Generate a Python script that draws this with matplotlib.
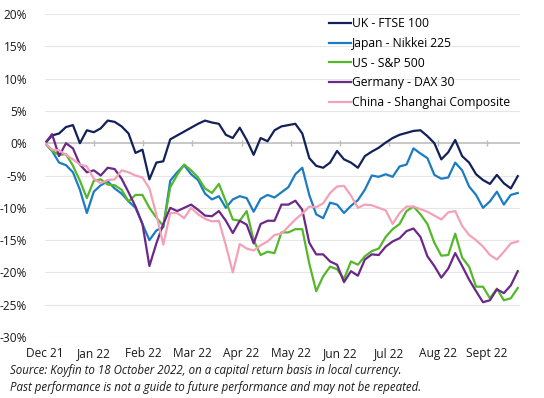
import numpy as np
import matplotlib
matplotlib.use("Agg")
import matplotlib.pyplot as plt

plt.rcParams['font.family'] = ['Open Sans', 'DejaVu Sans']

# trading-day index (every 3rd day), 31 Dec 2021 -> 18 Oct 2022
day_idx = np.arange(0, 205, 3)

month_labels = ["Dec 21", "Jan 22", "Feb 22", "Mar 22", "Apr 22",
                "May 22", "Jun 22", "Jul 22", "Aug 22", "Sept 22"]

series_names = ["UK - FTSE 100", "Japan - Nikkei 225", "US - S&P 500",
                "Germany - DAX 30", "China - Shanghai Composite"]

ftse = [0.0, 1.2, 1.5, 2.5, 2.8, 0.0, 2.0, 1.7, 2.3, 3.5,
        3.3, 2.6, 1.5, -1.5, -1.0, -5.6, -3.0, -2.8, 0.6, 1.2,
        1.8, 2.4, 3.0, 3.5, 3.2, 3.0, 1.3, 0.8, 2.4, 0.5,
        -1.8, 0.8, 0.3, 2.0, 2.6, 2.8, 3.0, 1.5, -2.3, -3.5,
        -3.8, -3.0, -1.2, -2.5, -3.0, -3.8, -2.0, -1.3, -0.7, 0.1,
        0.8, 1.3, 1.6, 1.9, 2.0, 1.1, 0.0, -2.5, -1.4, 0.5,
        -2.0, -3.0, -4.8, -5.7, -6.3, -4.9, -6.2, -7.0, -5.1]

nikkei = [0.0, -1.2, -3.0, -3.4, -4.5, -7.2, -10.8, -7.5, -6.5, -5.9,
          -7.0, -7.8, -9.0, -10.0, -12.5, -15.0, -13.5, -13.0, -5.8, -4.5,
          -3.4, -4.8, -5.7, -7.8, -8.7, -8.2, -10.0, -8.7, -8.2, -8.5,
          -10.6, -8.6, -8.0, -8.4, -7.6, -6.8, -4.8, -3.8, -8.0, -11.0,
          -11.6, -9.2, -9.5, -10.8, -9.7, -8.8, -7.2, -5.0, -5.2, -4.8,
          -5.2, -3.6, -3.3, -0.8, -1.6, -2.3, -4.9, -5.5, -5.3, -3.0,
          -4.2, -6.7, -8.0, -10.0, -9.0, -7.5, -9.5, -8.0, -7.7]

spx = [0.0, -1.2, -1.8, -1.7, -3.5, -5.8, -8.5, -5.8, -5.6, -6.4,
       -6.5, -7.2, -9.0, -8.0, -8.0, -10.0, -11.5, -12.8, -6.8, -4.9,
       -3.3, -4.2, -5.3, -7.0, -7.7, -6.3, -9.0, -11.8, -12.0, -10.5,
       -15.0, -17.3, -16.8, -17.0, -13.8, -13.8, -13.3, -13.3, -18.6, -22.9,
       -20.6, -19.1, -19.5, -21.0, -18.3, -18.8, -17.5, -16.7, -16.3, -14.5,
       -13.3, -12.5, -10.5, -9.8, -11.0, -12.5, -15.4, -17.4, -17.3, -14.0,
       -17.7, -19.1, -22.2, -22.2, -24.0, -22.5, -24.3, -24.0, -22.4]

dax = [0.0, 1.4, -2.0, 0.0, -0.8, -3.3, -4.5, -4.2, -5.0, -3.8,
       -4.0, -5.5, -7.6, -9.8, -12.5, -19.0, -15.5, -12.5, -10.0, -10.5,
       -10.0, -9.5, -10.3, -11.2, -11.3, -10.5, -12.0, -13.9, -12.0, -12.6,
       -15.5, -12.5, -12.0, -12.0, -9.5, -9.5, -8.9, -10.3, -15.4, -17.2,
       -17.2, -18.3, -18.8, -21.5, -19.8, -20.5, -18.0, -17.2, -17.3, -16.0,
       -15.2, -14.7, -13.6, -13.2, -14.5, -17.5, -19.0, -20.8, -19.4, -17.0,
       -19.0, -21.1, -22.9, -24.6, -24.3, -22.6, -23.2, -22.0, -19.8]

shanghai = [0.0, -1.0, -1.1, -1.8, -2.5, -3.3, -3.6, -5.5, -6.2, -5.7,
            -5.6, -4.2, -4.5, -5.0, -5.3, -7.0, -11.0, -15.7, -10.8, -10.8,
            -11.6, -10.0, -11.0, -11.7, -12.1, -12.0, -15.8, -20.0, -15.6, -16.3,
            -16.6, -15.8, -15.2, -14.2, -14.0, -12.9, -11.8, -10.9, -9.8, -9.9,
            -9.3, -7.7, -6.7, -6.6, -8.1, -10.0, -9.5, -9.6, -10.0, -10.4,
            -12.5, -10.8, -9.8, -9.8, -10.2, -10.6, -11.2, -11.8, -10.7, -10.5,
            -12.8, -14.2, -15.0, -16.0, -17.3, -18.0, -16.8, -15.5, -15.2]

colors = ["#13215a", "#1b7cc3", "#54b82a", "#6a2889", "#f3a1b9"]

fig = plt.figure(figsize=(5.44, 3.98), dpi=100)
ax = fig.add_axes([0.083, 0.153, 0.873, 0.812])

for vals, name, c in zip([ftse, nikkei, spx, dax, shanghai], series_names, colors):
    ax.plot(day_idx, vals, color=c, lw=1.6, label=name, solid_joinstyle='round')

ax.set_xlim(0, 205)
ax.set_ylim(-30, 20)
yt = np.arange(-30, 21, 5)
ax.set_yticks(yt)
ax.set_yticklabels([f"{v}%" for v in yt])
for v in yt:
    if v != 0:
        ax.axhline(v, color="#e6e6e6", lw=0.8, zorder=0)
ax.axhline(0, color="#bdbdbd", lw=1.2, zorder=0.5)
# small month ticks sitting on the zero line
tick_pos = np.arange(len(month_labels)) * 21.2
ax.plot(tick_pos[1:], np.zeros(len(tick_pos) - 1), linestyle='none',
        marker='|', markersize=4, color="#bdbdbd", zorder=0.5)

ax.set_xticks(tick_pos)
ax.set_xticklabels(month_labels)
ax.tick_params(axis='both', length=0, labelsize=8.6, colors="#1a1a1a")
ax.tick_params(axis='y', pad=13)
ax.tick_params(axis='x', pad=7)
for s in ax.spines.values():
    s.set_visible(False)

fig.legend(loc='upper left', bbox_to_anchor=(0.604, 0.957), frameon=False,
           fontsize=8.7, handlelength=1.85, handletextpad=0.1,
           labelspacing=0.56, borderpad=0, borderaxespad=0)

fig.text(0.018, 0.068, "Source: Koyfin to 18 October 2022, on a capital return basis in local currency.",
         fontsize=8.3, style='italic', color="#1a1a1a", va='center')
fig.text(0.018, 0.027, "Past performance is not a guide to future performance and may not be repeated.",
         fontsize=8.3, style='italic', color="#1a1a1a", va='center')

fig.savefig("out.png", dpi=100)
